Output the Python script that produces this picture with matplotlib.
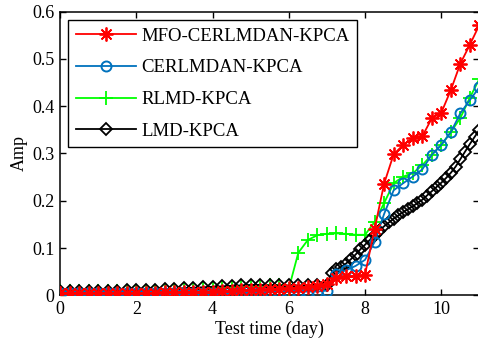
import numpy as np
import matplotlib
matplotlib.use("Agg")
import matplotlib.pyplot as plt

plt.rcParams["font.family"] = ["Liberation Serif", "DejaVu Serif"]

# ── data ────────────────────────────────────────────────────────────────────
days = np.arange(0, 11.01, 0.25)
# LMD-KPCA is sampled more finely after day 7
lmd_days = np.concatenate([np.arange(0, 7.01, 0.25), np.arange(7.125, 11.01, 0.125)])

mfo = [0.004, 0.004, 0.004, 0.004, 0.004, 0.004, 0.004, 0.005, 0.005, 0.005,
       0.005, 0.006, 0.006, 0.007, 0.007, 0.008, 0.008, 0.009, 0.010, 0.011,
       0.011, 0.012, 0.013, 0.014, 0.015, 0.016, 0.018, 0.020, 0.024,
       0.036, 0.040, 0.040, 0.044, 0.140, 0.236, 0.298, 0.318, 0.332, 0.336,
       0.374, 0.386, 0.434, 0.490, 0.530, 0.572]

cerlmdan = [0.004, 0.004, 0.004, 0.004, 0.004, 0.004, 0.004, 0.004, 0.004, 0.004,
            0.004, 0.004, 0.004, 0.004, 0.005, 0.005, 0.005, 0.005, 0.005, 0.006,
            0.006, 0.006, 0.006, 0.007, 0.007, 0.007, 0.008, 0.008, 0.010,
            0.046, 0.053, 0.062, 0.075, 0.113, 0.172, 0.222, 0.237, 0.251, 0.266,
            0.297, 0.318, 0.345, 0.385, 0.413, 0.440]

rlmd = [0.009, 0.009, 0.009, 0.009, 0.009, 0.009, 0.009, 0.010, 0.010, 0.010,
        0.010, 0.011, 0.011, 0.012, 0.013, 0.014, 0.015, 0.016, 0.017, 0.018,
        0.019, 0.020, 0.021, 0.022, 0.014, 0.090, 0.117, 0.127, 0.130,
        0.131, 0.130, 0.128, 0.128, 0.155, 0.195, 0.237, 0.251, 0.258, 0.275,
        0.297, 0.318, 0.345, 0.375, 0.418, 0.458]

lmd = [0.010, 0.010, 0.010, 0.010, 0.010, 0.010, 0.010, 0.011, 0.011, 0.012,
       0.012, 0.013, 0.014, 0.015, 0.016, 0.017, 0.018, 0.019, 0.020, 0.021,
       0.022, 0.022, 0.021, 0.021, 0.021, 0.021, 0.021, 0.021, 0.022,
       0.048, 0.055, 0.060, 0.067, 0.076, 0.086, 0.097, 0.107,
       0.117, 0.127, 0.137, 0.146, 0.154, 0.162, 0.169, 0.176,
       0.182, 0.188, 0.195, 0.202, 0.211, 0.220, 0.229, 0.238,
       0.248, 0.259, 0.272, 0.288, 0.304, 0.320, 0.335, 0.350]

labels = ["MFO-CERLMDAN-KPCA", "CERLMDAN-KPCA", "RLMD-KPCA", "LMD-KPCA"]
xticks = [0, 2, 4, 6, 8, 10]
yticks = [0, 0.1, 0.2, 0.3, 0.4, 0.5, 0.6]
yticklabels = ["0", "0.1", "0.2", "0.3", "0.4", "0.5", "0.6"]

# ── figure ──────────────────────────────────────────────────────────────────
fig = plt.figure(figsize=(4.78, 3.48), dpi=100)
ax = fig.add_axes([0.1255, 0.1514, 0.8775, 0.8155])

asterisk = (8, 2, 0)  # matlab-like '*'

ax.plot(days, rlmd, color="#00ff00", lw=1.3, marker="+", ms=10,
        mew=1.3, label=labels[2], zorder=3)
ax.plot(lmd_days, lmd, color="black", lw=1.3, marker="D", ms=6.5,
        mfc="none", mec="black", mew=1.3, label=labels[3], zorder=4)
ax.plot(days, cerlmdan, color="#0072bd", lw=1.3, marker="o", ms=7.2,
        mfc="none", mew=1.4, label=labels[1], zorder=5)
ax.plot(days, mfo, color="red", lw=1.3, marker=asterisk, ms=10,
        mew=1.3, label=labels[0], zorder=6)

ax.set_xlim(0, 11)
ax.set_ylim(0, 0.6)
ax.set_xticks(xticks)
ax.set_yticks(yticks)
ax.set_yticklabels(yticklabels)
ax.tick_params(direction="in", length=4, width=1, labelsize=13,
               top=True, right=True, pad=4)
for s in ax.spines.values():
    s.set_linewidth(1.1)

ax.set_xlabel("Test time (day)", fontsize=13, labelpad=2)
ax.set_ylabel("Amp", fontsize=13, labelpad=3)

handles, labs = ax.get_legend_handles_labels()
order = [3, 2, 0, 1]
leg = ax.legend([handles[i] for i in order], [labs[i] for i in order],
                loc="upper left", bbox_to_anchor=(0.0, 1.0),
                fontsize=13.5, frameon=True, fancybox=False,
                edgecolor="black", framealpha=1, borderaxespad=0.45,
                borderpad=0.4, handlelength=3.2, handletextpad=0.3,
                labelspacing=0.78)
leg.get_frame().set_linewidth(1.0)

fig.savefig("out.png", dpi=100)
